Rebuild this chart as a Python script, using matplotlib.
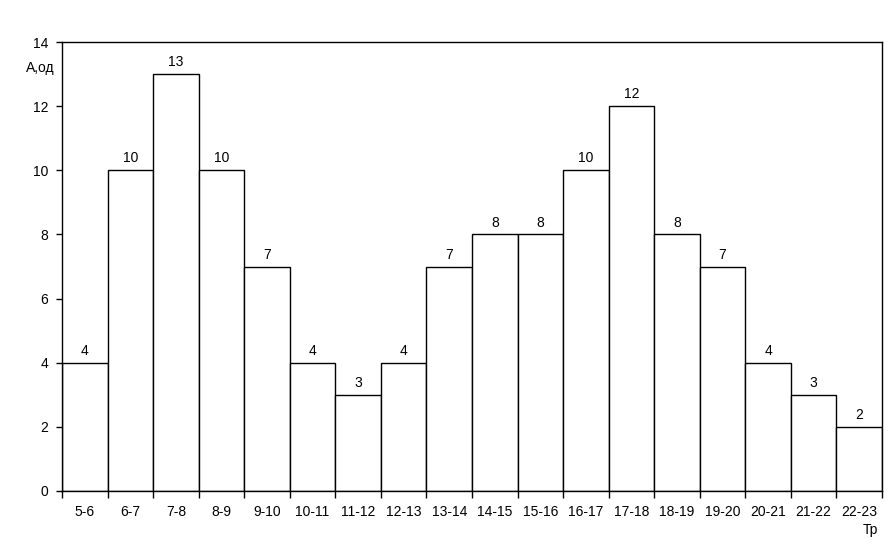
import matplotlib
matplotlib.use("Agg")
import matplotlib.pyplot as plt
import numpy as np

plt.rcParams['font.family'] = ['Liberation Sans', 'DejaVu Sans']

categories = ["5-6", "6-7", "7-8", "8-9", "9-10", "10-11", "11-12", "12-13", "13-14",
              "14-15", "15-16", "16-17", "17-18", "18-19", "19-20", "20-21", "21-22", "22-23"]
values = [4, 10, 13, 10, 7, 4, 3, 4, 7, 8, 8, 10, 12, 8, 7, 4, 3, 2]
y_ticks = [0, 2, 4, 6, 8, 10, 12, 14]

W, H = 895, 558
fig = plt.figure(figsize=(W / 100, H / 100), dpi=100)
ax = fig.add_axes([62 / W, 1 - 491 / H, (882 - 62) / W, (491 - 42) / H])

x = np.arange(len(categories))
ax.bar(x, values, width=1.0, align='edge', color='white', edgecolor='black', linewidth=1.0)
for xi, v in zip(x, values):
    ax.text(xi + 0.5, v + 0.15, str(v), ha='center', va='bottom', fontsize=10)

ax.set_xlim(0, len(categories))
ax.set_ylim(0, 14)
ax.set_yticks(y_ticks)
ax.set_yticklabels([str(t) for t in y_ticks], fontsize=10)
ax.set_xticks(np.arange(len(categories) + 1))
ax.set_xticklabels([])
ax.set_xticks(x + 0.5, minor=True)
ax.set_xticklabels(categories, minor=True, fontsize=10)
ax.tick_params(axis='x', which='major', direction='out', length=5, width=1)
ax.tick_params(axis='x', which='minor', length=0, pad=10)
ax.tick_params(axis='y', direction='out', length=4, width=1, pad=6)
for s in ax.spines.values():
    s.set_linewidth(1.0)

fig.text(40 / W, 1 - 68 / H, "А,од", ha='center', va='center', fontsize=10)
fig.text(870 / W, 1 - 530 / H, "Тр", ha='center', va='center', fontsize=10)

fig.savefig("out.png", dpi=100)
